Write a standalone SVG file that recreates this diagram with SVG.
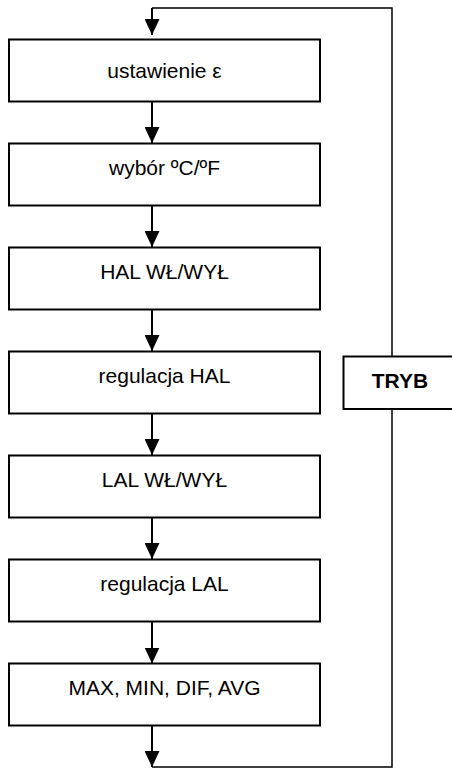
<svg xmlns="http://www.w3.org/2000/svg" width="452" height="768" viewBox="0 0 452 768">
<style>
.box{fill:#fff;stroke:#000;stroke-width:2}
.t{font-family:"Liberation Sans",Arial,sans-serif;font-size:21px;fill:#000;text-anchor:middle}
.b{font-weight:bold}
.ln{fill:none;stroke:#000;stroke-width:2}
.thin{fill:none;stroke:#000;stroke-width:1.5}
</style>
<defs>
<marker id="ah" markerWidth="16" markerHeight="15" refX="16" refY="7.5" orient="auto" markerUnits="userSpaceOnUse" viewBox="0 0 16 15">
<polygon points="0,0 16,7.5 0,15" fill="#000"/>
</marker>
</defs>
<g id="connectors">
<polyline class="thin" points="392,409 392,767 152,767"/>
<polyline class="thin" points="392,356 392,8 152,8"/>
<line class="ln" x1="152" y1="8" x2="152" y2="35" marker-end="url(#ah)"/>
<line class="ln" x1="152" y1="101.5" x2="152" y2="143" marker-end="url(#ah)"/>
<line class="ln" x1="152" y1="205.5" x2="152" y2="247" marker-end="url(#ah)"/>
<line class="ln" x1="152" y1="309.5" x2="152" y2="351" marker-end="url(#ah)"/>
<line class="ln" x1="152" y1="413.5" x2="152" y2="455" marker-end="url(#ah)"/>
<line class="ln" x1="152" y1="517.5" x2="152" y2="559" marker-end="url(#ah)"/>
<line class="ln" x1="152" y1="621.5" x2="152" y2="663.5" marker-end="url(#ah)"/>
<line class="ln" x1="152" y1="725.5" x2="152" y2="767" marker-end="url(#ah)"/>
</g>
<g id="n1"><rect class="box" x="9" y="39.5" width="311" height="62"/><text class="t" x="164.5" y="77.5">ustawienie ε</text></g>
<g id="n2"><rect class="box" x="9" y="143.5" width="311" height="62"/><text class="t" x="164.5" y="174.5">wybór ºC/ºF</text></g>
<g id="n3"><rect class="box" x="9" y="247.5" width="311" height="62"/><text class="t" x="164.5" y="278.5">HAL WŁ/WYŁ</text></g>
<g id="n4"><rect class="box" x="9" y="351.5" width="311" height="62"/><text class="t" x="164.5" y="383">regulacja HAL</text></g>
<g id="n5"><rect class="box" x="9" y="455.5" width="311" height="62"/><text class="t" x="164.5" y="487">LAL WŁ/WYŁ</text></g>
<g id="n6"><rect class="box" x="9" y="559.5" width="311" height="62"/><text class="t" x="164.5" y="591">regulacja LAL</text></g>
<g id="n7"><rect class="box" x="9" y="663.5" width="311" height="62"/><text class="t" x="164.5" y="695">MAX, MIN, DIF, AVG</text></g>
<g id="tryb"><rect class="box" x="343.5" y="356.5" width="120" height="52.5"/><text class="t b" x="400" y="388">TRYB</text></g>
</svg>
